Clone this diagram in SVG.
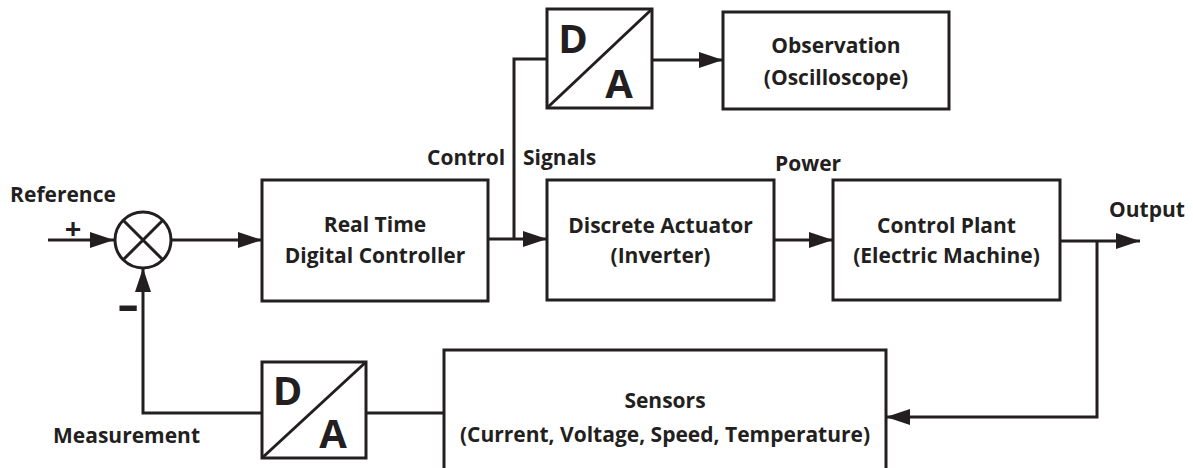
<svg xmlns="http://www.w3.org/2000/svg" width="1193" height="468" viewBox="0 0 1193 468">
<style>
.box{fill:#fff;stroke:#231f20;stroke-width:3}
.ln{fill:none;stroke:#231f20;stroke-width:3}
.t{font-family:"Open Sans","Liberation Sans",sans-serif;font-weight:bold;font-size:21px;fill:#231f20}
.c{text-anchor:middle}
.big{font-family:"Open Sans","Liberation Sans",sans-serif;font-weight:bold;font-size:40px;fill:#231f20;text-anchor:middle}
</style>
<defs>
<marker id="arr" markerUnits="userSpaceOnUse" markerWidth="24" markerHeight="18" refX="24" refY="9" orient="auto">
<path d="M0,1 L24,9 L0,17 z" fill="#231f20"/>
</marker>
</defs>
<rect width="1193" height="468" fill="#fff"/>
<g id="connectors">
<path class="ln" d="M48,240 H114" marker-end="url(#arr)"/>
<path class="ln" d="M172,240 H262" marker-end="url(#arr)"/>
<path class="ln" d="M488,239 H547" marker-end="url(#arr)"/>
<path class="ln" d="M514,239 V59 H547"/>
<path class="ln" d="M652,60 H723" marker-end="url(#arr)"/>
<path class="ln" d="M774,240 H833" marker-end="url(#arr)"/>
<path class="ln" d="M1060,241 H1140" marker-end="url(#arr)"/>
<path class="ln" d="M1097,241 V417 H886" marker-end="url(#arr)"/>
<path class="ln" d="M444,413 H366"/>
<path class="ln" d="M262,413 H143 V268" marker-end="url(#arr)"/>
</g>
<g id="labels">
<text class="t c" x="63" y="202">Reference</text>
<text class="t c" x="73" y="239" style="font-size:29px">+</text>
<text class="t c" x="0" y="0" transform="translate(128,320) scale(1.5,1)" style="font-size:44px">-</text>
<text class="t" x="427" y="165">Control</text>
<text class="t" x="523" y="165">Signals</text>
<text class="t" x="775" y="171">Power</text>
<text class="t" x="1109" y="217">Output</text>
<text class="t" x="53" y="443">Measurement</text>
</g>
<g id="sum">
<circle cx="143" cy="240" r="28" fill="#fff" stroke="#231f20" stroke-width="3"/>
<path class="ln" d="M123.2,220.2 L162.8,259.8 M162.8,220.2 L123.2,259.8"/>
</g>
<g id="controller">
<rect class="box" x="262" y="180" width="226" height="121"/>
<text class="t c" x="375" y="232">Real Time</text>
<text class="t c" x="375" y="263">Digital Controller</text>
</g>
<g id="actuator">
<rect class="box" x="547" y="180" width="227" height="120"/>
<text class="t c" x="660.5" y="233">Discrete Actuator</text>
<text class="t c" x="660.5" y="263">(Inverter)</text>
</g>
<g id="plant">
<rect class="box" x="833" y="180" width="227" height="120"/>
<text class="t c" x="946.5" y="233">Control Plant</text>
<text class="t c" x="946.5" y="263">(Electric Machine)</text>
</g>
<g id="da-top">
<rect class="box" x="547" y="9" width="105" height="99"/>
<path class="ln" d="M547,108 L652,9"/>
<text class="big" x="573" y="53">D</text>
<text class="big" x="619" y="98">A</text>
</g>
<g id="observation">
<rect class="box" x="723" y="12" width="226" height="97"/>
<text class="t c" x="836" y="53">Observation</text>
<text class="t c" x="836" y="85">(Oscilloscope)</text>
</g>
<g id="sensors">
<rect class="box" x="444" y="350" width="442" height="130"/>
<text class="t c" x="665" y="408">Sensors</text>
<text class="t c" x="665" y="442">(Current, Voltage, Speed, Temperature)</text>
</g>
<g id="da-bottom">
<rect class="box" x="262" y="362" width="104" height="96"/>
<path class="ln" d="M262,458 L366,362"/>
<text class="big" x="287.5" y="405">D</text>
<text class="big" x="333" y="448">A</text>
</g>
</svg>
